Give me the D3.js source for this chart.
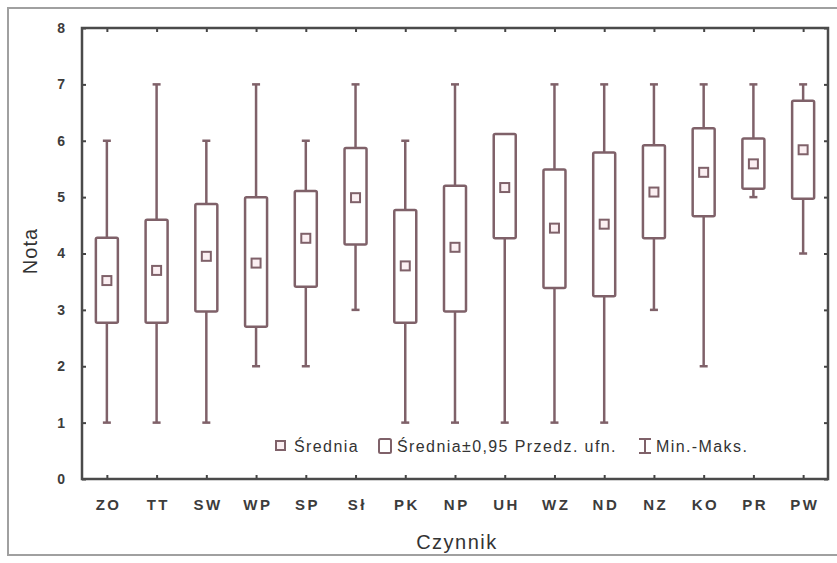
<!DOCTYPE html>
<html>
<head>
<meta charset="utf-8">
<script src="https://cdn.jsdelivr.net/npm/d3@7"></script>
<style>
  body { margin: 0; background: #fff; }
  text { font-family: "Liberation Sans", Arial, sans-serif; }
</style>
</head>
<body>
<div id="chart"></div>
<script>
// categories and box values (mean, ±0.95 CI, min-max)
const categories = ['ZO', 'TT', 'SW', 'WP', 'SP', 'Sł', 'PK', 'NP', 'UH', 'WZ', 'ND', 'NZ', 'KO', 'PR', 'PW'];
const means   = [3.52, 3.70, 3.95, 3.83, 4.27, 4.99, 3.78, 4.11, 5.17, 4.45, 4.52, 5.09, 5.44, 5.59, 5.84];
const ciLow   = [2.77, 2.77, 2.97, 2.70, 3.41, 4.16, 2.77, 2.97, 4.27, 3.39, 3.24, 4.27, 4.66, 5.15, 4.97];
const ciHigh  = [4.28, 4.60, 4.88, 5.00, 5.11, 5.87, 4.77, 5.20, 6.12, 5.49, 5.79, 5.92, 6.22, 6.04, 6.71];
const mins    = [1, 1, 1, 2, 2, 3, 1, 1, 1, 1, 1, 3, 2, 5, 4];
const maxs    = [6, 7, 6, 7, 6, 7, 6, 7, 6, 7, 7, 7, 7, 7, 7];
const yTicks  = [0, 1, 2, 3, 4, 5, 6, 7, 8];

const data = categories.map((c, i) => ({
  name: c, mean: means[i], lo: ciLow[i], hi: ciHigh[i], min: mins[i], max: maxs[i]
}));

const width = 837, height = 563;
const margin = { top: 28, right: 8, bottom: 84, left: 82 };
const boxColor = '#7f6169';
const textColor = '#3c3c3c';

const svg = d3.select('#chart')
  .append('svg')
  .attr('width', width)
  .attr('height', height);

// outer frame
svg.append('path')
  .attr('d', `M837,8 H8 V555 H837`)
  .attr('fill', 'none')
  .attr('stroke', '#a0a0a0')
  .attr('stroke-width', 2);

const x = d3.scalePoint()
  .domain(categories)
  .range([margin.left, width - margin.right - 1])
  .padding(0.5);

const y = d3.scaleLinear()
  .domain([0, 8])
  .range([height - margin.bottom, margin.top]);

const x0 = margin.left, x1 = width - margin.right - 1;
const y0 = y(0), y1 = y(8);

// y axis labels + ticks (inward, both sides)
svg.append('g')
  .attr('transform', `translate(${x0},0)`)
  .call(d3.axisLeft(y).tickValues(yTicks).tickSize(-4).tickPadding(17).tickFormat(d3.format('d')))
  .call(g => g.select('.domain').remove())
  .call(g => g.selectAll('line').attr('stroke', '#444').attr('stroke-width', 2))
  .call(g => g.selectAll('text')
    .style('font-size', '14px').style('font-weight', 'bold').attr('fill', textColor));

svg.append('g')
  .attr('transform', `translate(${x1},0)`)
  .call(d3.axisRight(y).tickValues(yTicks).tickSize(-4).tickFormat(''))
  .call(g => g.select('.domain').remove())
  .call(g => g.selectAll('line').attr('stroke', '#444').attr('stroke-width', 2));

// x axis labels + ticks
svg.append('g')
  .attr('transform', `translate(0,${y0})`)
  .call(d3.axisBottom(x).tickSize(-4).tickPadding(20))
  .call(g => g.select('.domain').remove())
  .call(g => g.selectAll('line').attr('stroke', '#444').attr('stroke-width', 2))
  .call(g => g.selectAll('text')
    .style('font-size', '15px').style('font-weight', 'bold')
    .style('letter-spacing', '2.5px').attr('dx', 1.25)
    .attr('fill', textColor));

svg.append('g')
  .attr('transform', `translate(0,${y1})`)
  .call(d3.axisTop(x).tickSize(-4).tickFormat(''))
  .call(g => g.select('.domain').remove())
  .call(g => g.selectAll('line').attr('stroke', '#444').attr('stroke-width', 2));

// plot frame
svg.append('rect')
  .attr('x', x0).attr('y', y1)
  .attr('width', x1 - x0).attr('height', y0 - y1)
  .attr('fill', 'none')
  .attr('stroke', '#4a4a4a')
  .attr('stroke-width', 2.5);

const boxW = 22, capW = 8, markW = 9;

const groups = svg.append('g')
  .selectAll('g')
  .data(data)
  .join('g')
  .attr('transform', d => `translate(${x(d.name)},0)`);

// whiskers
groups.append('line')
  .attr('y1', d => y(d.max)).attr('y2', d => y(d.hi))
  .attr('stroke', boxColor).attr('stroke-width', 2.5);
groups.append('line')
  .attr('y1', d => y(d.min)).attr('y2', d => y(d.lo))
  .attr('stroke', boxColor).attr('stroke-width', 2.5);

// caps
groups.append('line')
  .attr('x1', -capW / 2).attr('x2', capW / 2)
  .attr('y1', d => y(d.max)).attr('y2', d => y(d.max))
  .attr('stroke', boxColor).attr('stroke-width', 2.5);
groups.append('line')
  .attr('x1', -capW / 2).attr('x2', capW / 2)
  .attr('y1', d => y(d.min)).attr('y2', d => y(d.min))
  .attr('stroke', boxColor).attr('stroke-width', 2.5);

// CI box
groups.append('rect')
  .attr('x', -boxW / 2)
  .attr('width', boxW)
  .attr('y', d => y(d.hi))
  .attr('height', d => y(d.lo) - y(d.hi))
  .attr('rx', 1.5)
  .attr('fill', '#fff')
  .attr('stroke', boxColor)
  .attr('stroke-width', 2.5);

// mean marker
groups.append('rect')
  .attr('x', -markW / 2)
  .attr('width', markW)
  .attr('y', d => y(d.mean) - markW / 2)
  .attr('height', markW)
  .attr('fill', '#fbeff2')
  .attr('stroke', boxColor)
  .attr('stroke-width', 2);

// axis titles
svg.append('text')
  .attr('x', 457)
  .attr('y', 549)
  .attr('text-anchor', 'middle')
  .style('font-size', '20px')
  .style('letter-spacing', '1.5px')
  .attr('fill', '#333')
  .text('Czynnik');

svg.append('text')
  .attr('transform', 'rotate(-90)')
  .attr('x', -251)
  .attr('y', 37)
  .attr('text-anchor', 'middle')
  .style('font-size', '20px')
  .style('letter-spacing', '1px')
  .attr('fill', '#333')
  .text('Nota');

// legend
const legend = svg.append('g').attr('transform', 'translate(0,446)');
const legendFont = g => g.style('font-size', '16px').style('letter-spacing', '1.4px').attr('fill', '#333');
legend.append('rect')
  .attr('x', 276).attr('y', -5).attr('width', 9).attr('height', 9)
  .attr('fill', '#fbeff2').attr('stroke', boxColor).attr('stroke-width', 2);
legend.append('text')
  .attr('x', 294).attr('y', 6)
  .call(legendFont)
  .text('Średnia');
legend.append('rect')
  .attr('x', 379).attr('y', -7).attr('width', 12).attr('height', 14).attr('rx', 1.5)
  .attr('fill', '#fff').attr('stroke', boxColor).attr('stroke-width', 2);
legend.append('text')
  .attr('x', 397).attr('y', 6)
  .call(legendFont)
  .text('Średnia±0,95 Przedz. ufn.');
legend.append('path')
  .attr('d', 'M639,-7 H651 M645,-7 V7 M639,7 H651')
  .attr('fill', 'none').attr('stroke', boxColor).attr('stroke-width', 2);
legend.append('text')
  .attr('x', 656).attr('y', 6)
  .call(legendFont)
  .text('Min.-Maks.');
</script>
</body>
</html>
